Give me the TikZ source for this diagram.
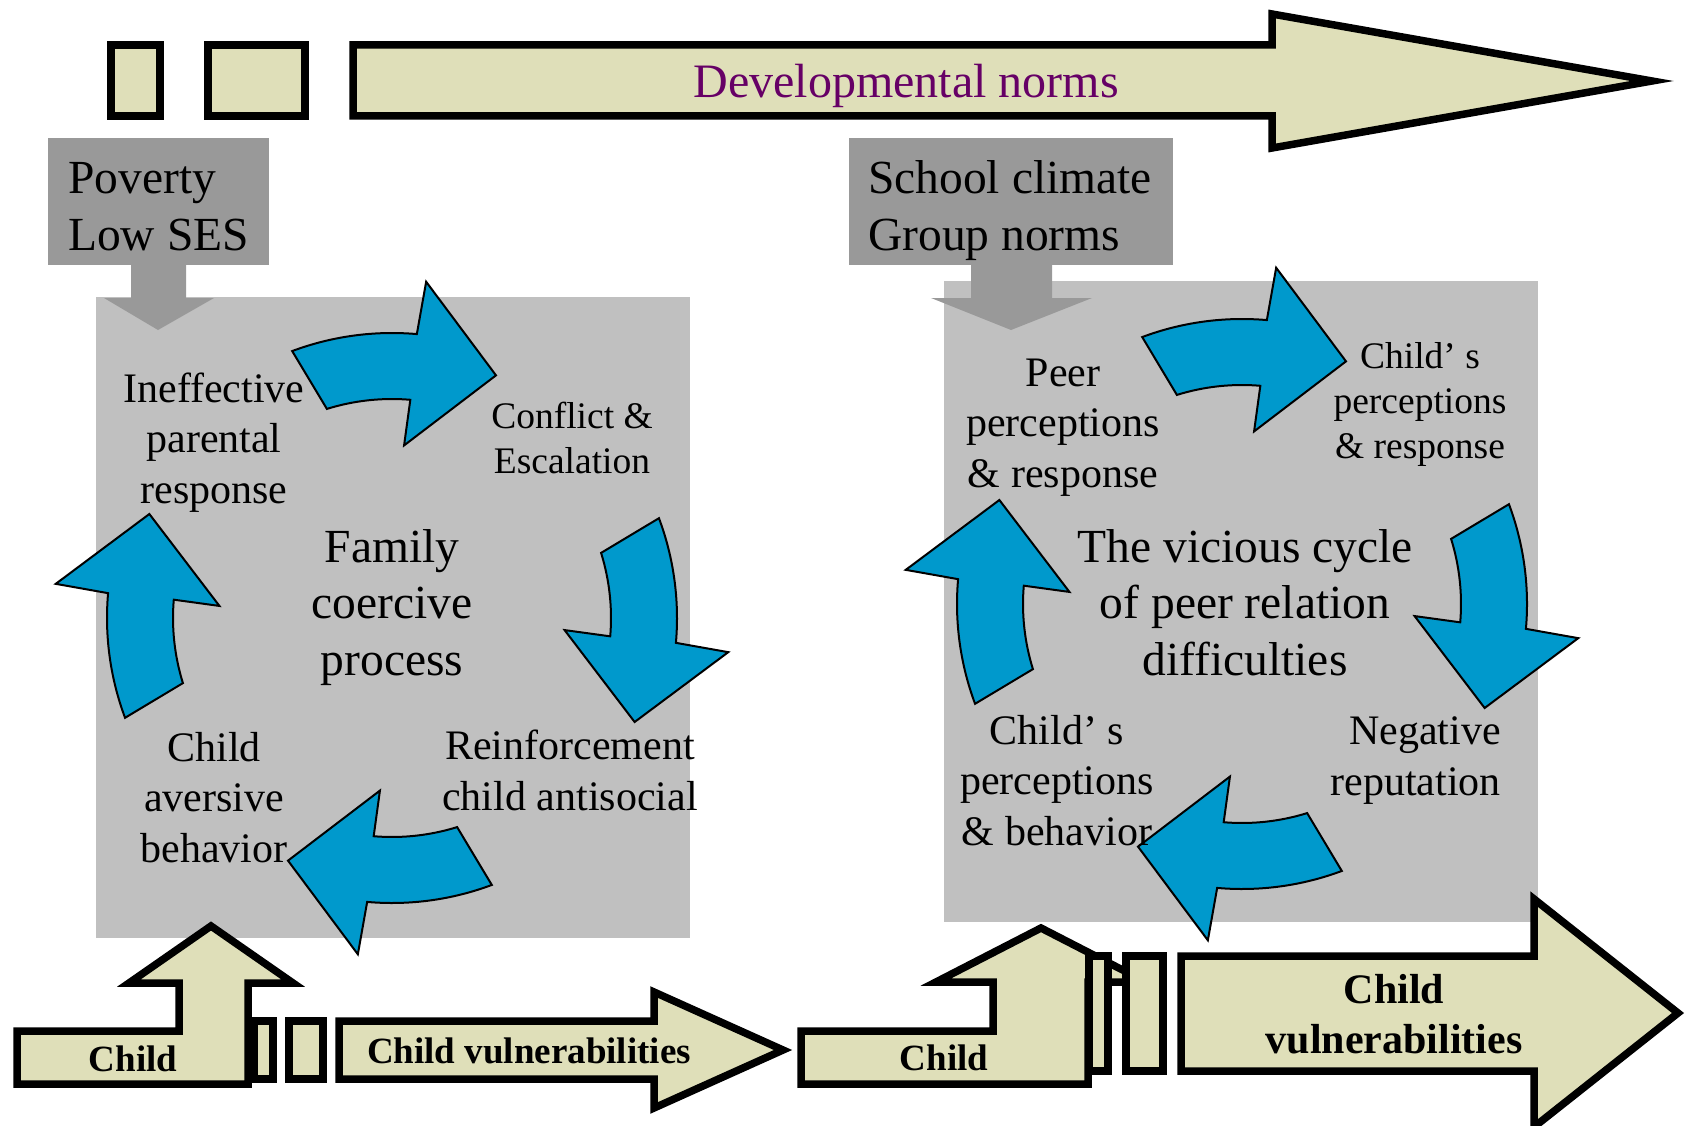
\documentclass[tikz,border=0pt]{standalone}
\usepackage{fontspec}
\setmainfont{Liberation Serif}
\definecolor{panelgray}{HTML}{C0C0C0}
\definecolor{tabgray}{HTML}{999999}
\definecolor{loopblue}{HTML}{0099CC}
\definecolor{normpurple}{HTML}{660066}
\definecolor{khaki}{RGB}{223,223,185}
\tikzset{
  block/.style={draw=black, line width=7.5pt, fill=khaki, line join=miter},
  loop arrow/.style={draw=black, line width=2pt, fill=loopblue, line join=miter},
  txt/.style={inner sep=0pt, anchor=base, align=center},
  hugefont/.style={font=\fontsize{48}{57}\selectfont},
  bigfont/.style={font=\fontsize{47.5}{56.5}\selectfont},
  midfont/.style={font=\fontsize{42}{50.5}\selectfont},
  smallfont/.style={font=\fontsize{37.5}{45}\selectfont},
  boldfont/.style={font=\fontsize{37}{45}\selectfont\bfseries},
}
\newcommand{\cyclearrow}[1]{%
  \draw[loop arrow, rotate=#1] (110.5:285pt) arc[start angle=110.5, end angle=85, radius=285pt]
    -- (84.2:338pt) -- (66.8:264pt) -- (86:173pt) -- (85.2:219pt)
    arc[start angle=85.2, end angle=107.3, radius=219pt] -- cycle;}

\begin{document}
\begin{tikzpicture}[x=1pt, y=-1pt]
\useasboundingbox (0,0) rectangle (1685,1126);

\fill[panelgray] (96,297) rectangle (690,938);
\fill[panelgray] (944,281) rectangle (1538,922);

\fill[tabgray] (48,138) rectangle (269,265);
\fill[tabgray] (131,262) -- (186,262) -- (186,298) -- (214,298) -- (158,330) -- (104,298) -- (131,298) -- cycle;
\fill[tabgray] (849,138) rectangle (1173,265);
\fill[tabgray] (971,262) -- (1052,262) -- (1052,298) -- (1092,298) -- (1011,330) -- (931,298) -- (971,298) -- cycle;

\draw[block] (111,45) rectangle (160,116);
\draw[block] (208,45) rectangle (305,116);
\draw[block] (353,45) -- (1272,45) -- (1272,14) -- (1652,81) -- (1272,148) -- (1272,116) -- (353,116) -- cycle;
\node[txt, hugefont, text=normpurple] (norms) at (906,98) {Developmental norms};

\begin{scope}[shift={(392,618)}]
  \foreach \r in {0,-90,-180,-270} {\cyclearrow{\r}}
\end{scope}
\begin{scope}[shift={(1242,604)}]
  \foreach \r in {0,-90,-180,-270} {\cyclearrow{\r}}
\end{scope}

% multi-line texts sit on the baseline of their last line
\node[txt, bigfont, anchor=base west, align=left] (poverty) at (68,250) {Poverty\\Low SES};
\node[txt, bigfont, anchor=base west, align=left] (school) at (868,250) {School climate\\Group norms};

\node[txt, midfont] (ineffective) at (214,503) {Ineffective\\parental\\response};
\node[txt, smallfont] (conflict) at (572,473) {Conflict \&\\Escalation};
\node[txt, bigfont] (family) at (392,675) {Family\\coercive\\process};
\node[txt, midfont] (reinforce) at (570,810) {Reinforcement\\child antisocial};
\node[txt, midfont] (aversive) at (214,862) {Child\\aversive\\behavior};

\node[txt, midfont] (peer) at (1063,487) {Peer\\perceptions\\\& response};
\node[txt, smallfont] (childresp) at (1420,458) {Child’ s\\perceptions\\\& response};
\node[txt, bigfont] (vicious) at (1245,675) {The vicious cycle\\of peer relation\\difficulties};
\node[txt, midfont, anchor=base east, align=right] (reputation) at (1501,795) {Negative\\reputation};
\node[txt, midfont] (childbeh) at (1057,845) {Child’ s\\perceptions\\\& behavior};

\draw[block] (17,1084) -- (248,1084) -- (248,983) -- (293,983) -- (211,926) -- (129,983) -- (179,983) -- (179,1031) -- (17,1031) -- cycle;
\draw[block] (254,1021) rectangle (273,1079);
\draw[block] (289,1021) rectangle (323,1079);
\draw[block] (339,1021) -- (654,1021) -- (654,992) -- (783,1050) -- (654,1108) -- (654,1079) -- (339,1079) -- cycle;
\node[txt, boldfont] (childL) at (133,1071) {Child};
\node[txt, boldfont] (vulnL) at (529,1063) {Child vulnerabilities};

\draw[block] (801,1084) -- (1088,1084) -- (1088,982) -- (1146,982) -- (1041,928) -- (936,982) -- (993,982) -- (993,1031) -- (801,1031) -- cycle;
\draw[block] (1089,956) rectangle (1108,1071);
\draw[block] (1126,956) rectangle (1163,1071);
\draw[block] (1181,956) -- (1534,956) -- (1534,899) -- (1678,1013) -- (1534,1127) -- (1534,1071) -- (1181,1071) -- cycle;
\node[txt, boldfont] (childR) at (944,1070) {Child};
\node[txt, boldfont, font=\fontsize{42}{50}\selectfont\bfseries] (vulnR) at (1394,1053) {Child\\vulnerabilities};
\end{tikzpicture}
\end{document}
